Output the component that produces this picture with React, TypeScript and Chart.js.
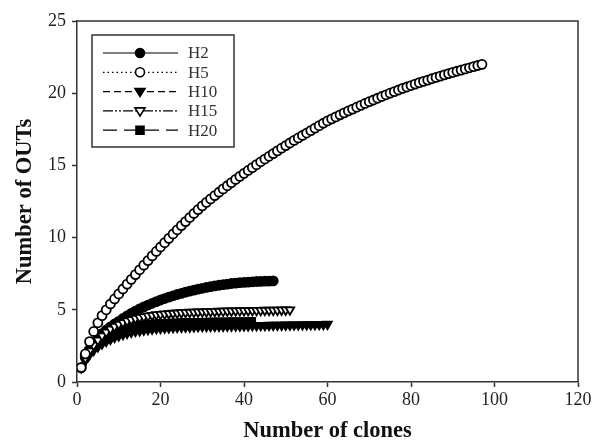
import React, { useEffect, useRef } from "react";
import { Chart, registerables } from "chart.js";
Chart.register(...registerables);

const seriesNames = ["H2", "H5", "H10", "H15", "H20"];

// Number of OTUs at 1..n clones
const h2 = [1.0, 1.7, 2.25, 2.7, 3.05, 3.35, 3.6, 3.82, 4.02, 4.2, 4.4, 4.58, 4.75, 4.91, 5.06, 5.2, 5.33, 5.45, 5.57, 5.68,
  5.78, 5.88, 5.97, 6.06, 6.14, 6.22, 6.29, 6.36, 6.43, 6.49, 6.55, 6.6, 6.65, 6.7, 6.74, 6.78, 6.82, 6.85, 6.88, 6.9,
  6.92, 6.94, 6.96, 6.97, 6.98, 6.99, 7.0];
const h5 = [1.0, 1.95, 2.8, 3.5, 4.1, 4.6, 5.0, 5.4, 5.75, 6.1, 6.44, 6.78, 7.11, 7.44, 7.77, 8.09, 8.41, 8.73, 9.04, 9.35,
  9.65, 9.95, 10.25, 10.54, 10.83, 11.11, 11.39, 11.67, 11.94, 12.2, 12.44, 12.68, 12.91, 13.14, 13.37, 13.59, 13.81, 14.03, 14.24, 14.45,
  14.65, 14.85, 15.05, 15.25, 15.44, 15.63, 15.82, 16.01, 16.19, 16.37, 16.55, 16.73, 16.9, 17.07, 17.24, 17.41, 17.58, 17.75, 17.92, 18.08,
  18.22, 18.36, 18.5, 18.64, 18.77, 18.9, 19.03, 19.16, 19.29, 19.41, 19.53, 19.65, 19.77, 19.89, 20.0, 20.11, 20.22, 20.33, 20.43, 20.53,
  20.63, 20.73, 20.82, 20.91, 21.0, 21.09, 21.18, 21.27, 21.36, 21.44, 21.52, 21.6, 21.68, 21.76, 21.84, 21.92, 22.0];
const h10 = [1.0, 1.5, 1.9, 2.2, 2.45, 2.65, 2.82, 2.97, 3.1, 3.2, 3.3, 3.38, 3.45, 3.51, 3.56, 3.6, 3.64, 3.67, 3.7, 3.72,
  3.74, 3.76, 3.78, 3.79, 3.8, 3.81, 3.82, 3.83, 3.84, 3.85, 3.85, 3.86, 3.86, 3.87, 3.87, 3.88, 3.88, 3.89, 3.89, 3.9,
  3.9, 3.91, 3.91, 3.92, 3.92, 3.93, 3.93, 3.94, 3.94, 3.95, 3.95, 3.96, 3.96, 3.97, 3.97, 3.98, 3.98, 3.99, 3.99, 4.0];
const h15 = [1.0, 1.65, 2.15, 2.55, 2.9, 3.2, 3.45, 3.67, 3.85, 4.0, 4.12, 4.23, 4.32, 4.4, 4.47, 4.53, 4.58, 4.62, 4.66, 4.69,
  4.72, 4.74, 4.76, 4.78, 4.8, 4.82, 4.83, 4.84, 4.85, 4.86, 4.87, 4.88, 4.89, 4.9, 4.91, 4.92, 4.92, 4.93, 4.94, 4.94,
  4.95, 4.95, 4.96, 4.96, 4.97, 4.97, 4.98, 4.98, 4.99, 4.99, 5.0];
const h20 = [1.0, 1.6, 2.05, 2.4, 2.7, 2.95, 3.15, 3.32, 3.47, 3.6, 3.7, 3.78, 3.85, 3.91, 3.96, 4.0, 4.03, 4.06, 4.08, 4.1,
  4.11, 4.12, 4.13, 4.14, 4.15, 4.16, 4.17, 4.17, 4.18, 4.18, 4.19, 4.19, 4.2, 4.2, 4.21, 4.21, 4.22, 4.22, 4.23, 4.23,
  4.24, 4.24];

const seriesValues = [h2, h5, h10, h15, h20];
const xTicks = [0, 20, 40, 60, 80, 100, 120];
const yTicks = [0, 5, 10, 15, 20, 25];
const xTitle = "Number of clones";
const yTitle = "Number of OUTs";

const INK = "#111";
const AXIS = "#333";

type Sty = { shape: string; fill: string; dash: number[]; r: number };
const styles: Sty[] = [
  { shape: "circle", fill: "#000", dash: [], r: 4.5 },
  { shape: "circle", fill: "#fff", dash: [1.5, 3], r: 4.5 },
  { shape: "tri", fill: "#000", dash: [7, 4], r: 5 },
  { shape: "tri", fill: "#fff", dash: [10, 2, 2, 2, 2, 2], r: 5 },
  { shape: "rect", fill: "#000", dash: [14, 7], r: 4 },
];

function drawMarker(ctx: CanvasRenderingContext2D, s: Sty, x: number, y: number) {
  ctx.save();
  ctx.setLineDash([]);
  ctx.fillStyle = s.fill;
  ctx.strokeStyle = "#000";
  ctx.lineWidth = 1.6;
  ctx.beginPath();
  if (s.shape === "circle") {
    ctx.arc(x, y, s.r, 0, Math.PI * 2);
  } else if (s.shape === "tri") {
    const r = s.r;
    ctx.moveTo(x - r, y - r * 0.6);
    ctx.lineTo(x + r, y - r * 0.6);
    ctx.lineTo(x, y + r);
    ctx.closePath();
  } else {
    ctx.rect(x - s.r, y - s.r, s.r * 2, s.r * 2);
  }
  ctx.fill();
  ctx.stroke();
  ctx.restore();
}

const framePlugin = {
  id: "frame",
  beforeDatasetsDraw(chart: any) {
    const { ctx, chartArea: a } = chart;
    ctx.save();
    ctx.strokeStyle = AXIS;
    ctx.lineWidth = 1.5;
    ctx.beginPath();
    ctx.moveTo(a.left, a.top);
    ctx.lineTo(a.right, a.top);
    ctx.lineTo(a.right, a.bottom);
    ctx.stroke();
    ctx.restore();
  },
};

const legendPlugin = {
  id: "boxLegend",
  afterDatasetsDraw(chart: any) {
    const { ctx, chartArea: a } = chart;
    const bx = a.left + 15, by = a.top + 14, bw = 142, bh = 112;
    ctx.save();
    ctx.fillStyle = "#fff";
    ctx.fillRect(bx, by, bw, bh);
    ctx.strokeStyle = AXIS;
    ctx.lineWidth = 1.5;
    ctx.strokeRect(bx, by, bw, bh);
    seriesNames.forEach((name, i) => {
      const s = styles[i];
      const y = by + 18 + i * 19.3;
      ctx.save();
      ctx.strokeStyle = "#000";
      ctx.lineWidth = 1.2;
      ctx.setLineDash(s.dash);
      ctx.beginPath();
      ctx.moveTo(bx + 11, y);
      ctx.lineTo(bx + 86, y);
      ctx.stroke();
      ctx.restore();
      drawMarker(ctx, s, bx + 48, y);
      ctx.fillStyle = "#333";
      ctx.font = "17px 'Liberation Serif', serif";
      ctx.textBaseline = "middle";
      ctx.textAlign = "left";
      ctx.fillText(name, bx + 96, y + 1);
    });
    ctx.restore();
  },
};

export default function App() {
  const ref = useRef<HTMLCanvasElement>(null);
  useEffect(() => {
    document.body.style.margin = "0";
    const datasets = seriesValues.map((vals, i) => {
      const s = styles[i];
      return {
        label: seriesNames[i],
        data: vals.map((v, k) => ({ x: k + 1, y: v })),
        borderColor: "#000",
        borderWidth: 1,
        borderDash: s.dash,
        backgroundColor: s.fill,
        pointBackgroundColor: s.fill,
        pointBorderColor: "#000",
        pointBorderWidth: 1.8,
        pointRadius: s.r,
        pointStyle: s.shape === "tri" ? "triangle" : s.shape === "rect" ? "rect" : "circle",
        pointRotation: s.shape === "tri" ? 180 : 0,
        fill: false,
        tension: 0,
        order: [2, 0, 4, 1, 3][i],
      };
    });
    const chart = new Chart(ref.current!, {
      type: "line",
      data: { datasets },
      plugins: [framePlugin, legendPlugin],
      options: {
        animation: false,
        responsive: true,
        maintainAspectRatio: false,
        layout: { padding: { left: 0, right: 16, top: 21, bottom: 0 } },
        plugins: { legend: { display: false }, tooltip: { enabled: false } },
        scales: {
          x: {
            type: "linear",
            min: 0,
            max: 120,
            afterBuildTicks: (sc: any) => { sc.ticks = xTicks.map((v) => ({ value: v })); },
            afterFit: (sc: any) => { sc.height = 66; },
            grid: { drawOnChartArea: false, drawTicks: true, tickLength: 5, tickWidth: 1.5, color: AXIS },
            border: { display: true, color: AXIS, width: 1.5 },
            ticks: { color: "#222", padding: 2, maxRotation: 0, font: { family: "'Liberation Serif', serif", size: 18 } },
            title: {
              display: true,
              text: xTitle,
              color: INK,
              padding: { top: 0, bottom: 3 },
              font: { family: "'Liberation Serif', serif", size: 22.5, weight: "bold" },
            },
          },
          y: {
            type: "linear",
            min: 0,
            max: 25,
            afterBuildTicks: (sc: any) => { sc.ticks = yTicks.map((v) => ({ value: v })); },
            afterFit: (sc: any) => { sc.width = 77; },
            grid: { drawOnChartArea: false, drawTicks: true, tickLength: 5, tickWidth: 1.5, color: AXIS },
            border: { display: true, color: AXIS, width: 1.5 },
            ticks: { color: "#222", padding: 6, font: { family: "'Liberation Serif', serif", size: 18 } },
            title: {
              display: true,
              text: yTitle,
              color: INK,
              padding: { top: 12, bottom: 0 },
              font: { family: "'Liberation Serif', serif", size: 22.5, weight: "bold" },
            },
          },
        },
      },
    } as any);
    return () => chart.destroy();
  }, []);
  return (
    <div style={{ position: "absolute", left: 0, top: 0, width: 594, height: 448 }}>
      <canvas ref={ref} />
    </div>
  );
}
